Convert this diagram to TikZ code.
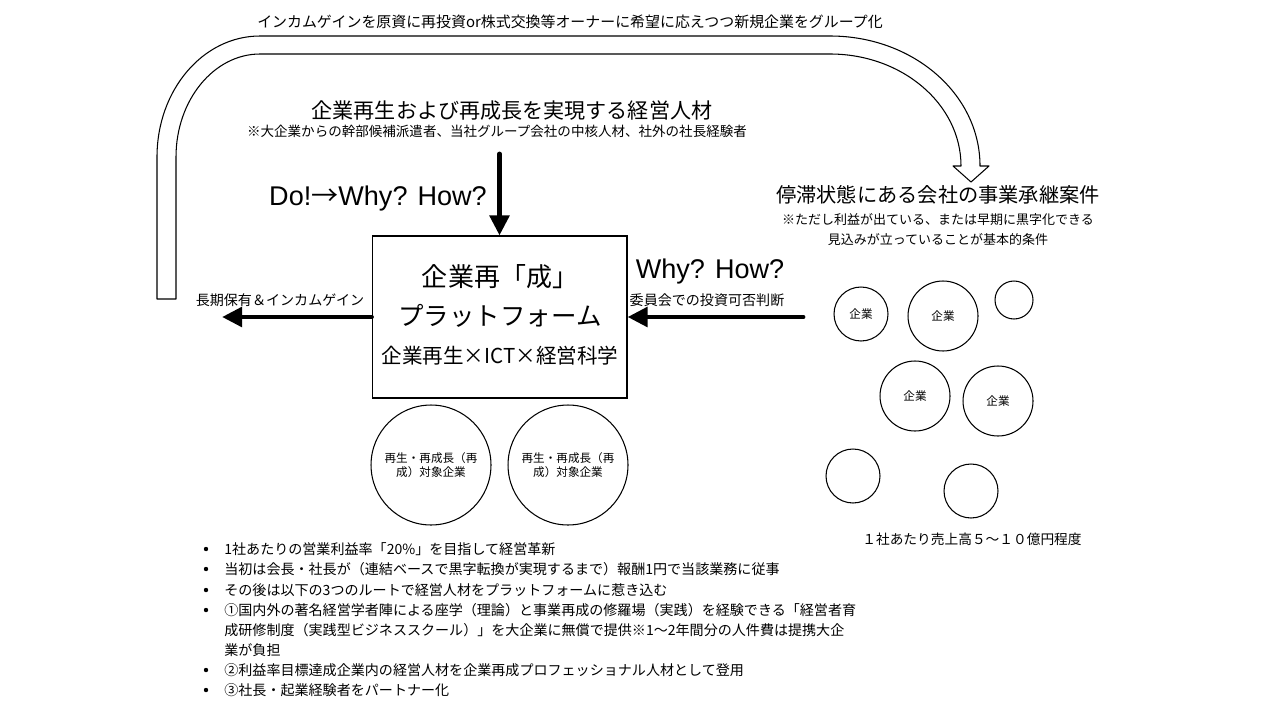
\documentclass[tikz,border=0pt]{standalone}
\usepackage{fontspec}
\setmainfont{Noto Sans CJK JP}
\newfontfamily\latinsf{Liberation Sans}
\usetikzlibrary{arrows.meta}

\newcommand\fsz[2]{\fontsize{#1}{#2}\selectfont}

\begin{document}
\begin{tikzpicture}[x=0.02cm,y=-0.02cm,line cap=round,
  co/.style={circle,draw,line width=0.6pt,inner sep=0pt,minimum size=#1,font=\fsz{6.6pt}{8pt}},
  bigarrow/.style={line width=2.8pt,-{Triangle[length=11.5pt,width=11pt]}},
  bul/.style={anchor=west,inner sep=0pt,font=\fsz{8pt}{10pt}}]
\useasboundingbox (0,0) rectangle (1263,713);

% return arrow over the top
\draw[line width=0.6pt,line join=round] (157,299) -- (157,157)
  .. controls (157,90) and (203,36) .. (260,36) -- (830,36)
  .. controls (913,36) and (980,94) .. (980,166) -- (989,166) -- (971,182) -- (953,166) -- (961,166)
  .. controls (961,104) and (902,54) .. (830,54) -- (260,54)
  .. controls (214,54) and (176,100) .. (176,157) -- (176,299) -- cycle;
\node[font=\fsz{8.5pt}{10pt}] (loop) at (570,22) {インカムゲインを原資に再投資or株式交換等オーナーに希望に応えつつ新規企業をグループ化};

% talent
\node[font=\fsz{12pt}{14pt}] (jinzai) at (512,111) {企業再生および再成長を実現する経営人材};
\node[font=\fsz{7.7pt}{9pt}] (haken) at (497,131) {※大企業からの幹部候補派遣者、当社グループ会社の中核人材、社外の社長経験者};

% platform
\node[draw,line width=0.6pt,minimum width=5.1cm,minimum height=3.24cm] (plat) at (499.5,317) {};
\node[font=\fsz{14.8pt}{16pt}] (pf1) at (500,277) {企業再「成」};
\node[font=\fsz{14.5pt}{16pt}] (pf2) at (500,316) {プラットフォーム};
\node[font=\fsz{11.7pt}{13pt}] (pf3) at (500,356) {企業再生×ICT×経営科学};

\node[font=\fsz{15.4pt}{17pt}] (dowhy) at (378,199) {{\latinsf Do!}→{\latinsf Why? How?}};
\draw[bigarrow,shorten <=6pt] (plat.north |- haken.south) -- (plat.north);

\coordinate (hold) at (222,317);
\draw[bigarrow] (plat.west) -- (hold);
\node[font=\fsz{8pt}{10pt}] (holdtxt) at (280,300) {長期保有＆インカムゲイン};

\coordinate (deal) at (803,317);
\draw[bigarrow] (deal) -- (plat.east);
\node[font=\fsz{15.4pt}{17pt}] (whyhow) at (710,272) {\latinsf Why? How?};
\node[font=\fsz{8pt}{10pt}] (iinkai) at (707,300) {委員会での投資可否判断};

% succession cases
\node[font=\fsz{11.5pt}{13pt}] (jigyo) at (938,195) {停滞状態にある会社の事業承継案件};
\node[font=\fsz{7.4pt}{11.4pt},align=center] (jigyonote) at (938,230) {※ただし利益が出ている、または早期に黒字化できる\\見込みが立っていることが基本的条件};
\node[co=1.08cm] (c1) at (861,314) {企業};
\node[co=1.4cm] (c2) at (943,316) {企業};
\node[co=0.76cm] (c3) at (1014,300) {};
\node[co=1.4cm] (c4) at (915,396) {企業};
\node[co=1.4cm] (c5) at (998,401) {企業};
\node[co=1.08cm] (c6) at (853,476) {};
\node[co=1.08cm] (c7) at (971,491) {};
\node[font=\fsz{7.8pt}{10pt}] (uriage) at (972,539) {１社あたり売上高５～１０億円程度};

% target companies
\node[co=2.4cm,align=center] (t1) at (431,465) {再生・再成長（再\\成）対象企業};
\node[co=2.4cm,align=center] (t2) at (568,465) {再生・再成長（再\\成）対象企業};

% bullets
\foreach \y in {549,569,590,610,670,690}
  \fill (206,\y) circle (2.2);
\node[bul] (b1) at (224,549) {1社あたりの営業利益率「20\%」を目指して経営革新};
\node[bul] (b2) at (224,569) {当初は会長・社長が（連結ベースで黒字転換が実現するまで）報酬1円で当該業務に従事};
\node[bul] (b3) at (224,590) {その後は以下の3つのルートで経営人材をプラットフォームに惹き込む};
\node[bul] (b4) at (224,610) {①国内外の著名経営学者陣による座学（理論）と事業再成の修羅場（実践）を経験できる「経営者育};
\node[bul] (b5) at (224,630) {成研修制度（実践型ビジネススクール）」を大企業に無償で提供※1～2年間分の人件費は提携大企};
\node[bul] (b6) at (224,650) {業が負担};
\node[bul] (b7) at (224,670) {②利益率目標達成企業内の経営人材を企業再成プロフェッショナル人材として登用};
\node[bul] (b8) at (224,690) {③社長・起業経験者をパートナー化};
\end{tikzpicture}
\end{document}
